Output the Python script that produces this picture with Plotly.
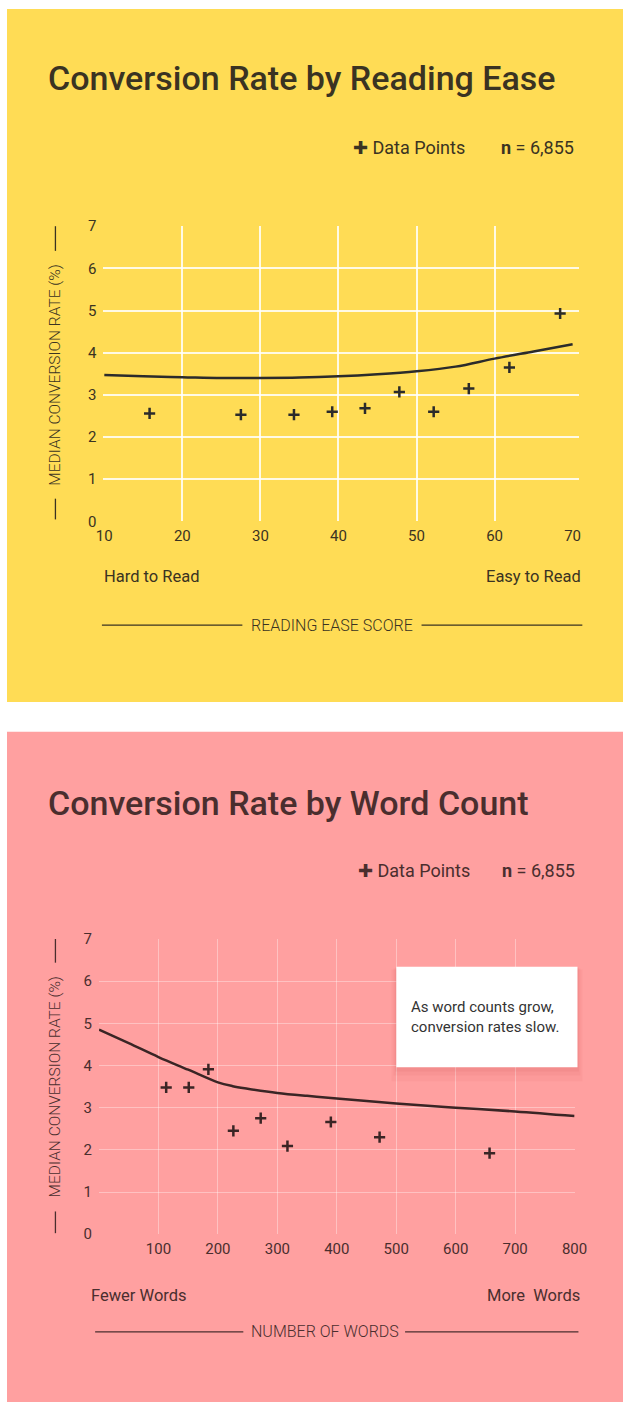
import plotly.graph_objects as go

# reading ease chart
ease_pts_x = [15.8, 27.5, 34.3, 39.2, 43.4, 47.8, 52.2, 56.7, 61.9, 68.4]
ease_pts_y = [2.56, 2.53, 2.53, 2.60, 2.68, 3.07, 2.60, 3.15, 3.65, 4.93]
ease_fit_x = [10, 15, 20, 25, 30, 35, 40, 45, 50, 55, 60, 65, 70]
ease_fit_y = [3.47, 3.44, 3.42, 3.40, 3.40, 3.41, 3.44, 3.49, 3.56, 3.67, 3.86, 4.03, 4.20]

# word count chart
words_pts_x = [113, 151, 184, 226, 272, 317, 390, 472, 657]
words_pts_y = [3.48, 3.48, 3.91, 2.45, 2.75, 2.09, 2.66, 2.30, 1.92]
words_fit_x = [0, 50, 100, 150, 200, 225, 250, 300, 350, 400, 500, 600, 700, 800]
words_fit_y = [4.85, 4.53, 4.20, 3.90, 3.60, 3.51, 3.45, 3.35, 3.28, 3.22, 3.10, 3.00, 2.91, 2.80]

ease_ticks = [10, 20, 30, 40, 50, 60, 70]
words_ticks = [100, 200, 300, 400, 500, 600, 700, 800]
rate_ticks = [0, 1, 2, 3, 4, 5, 6, 7]

YELLOW = "#FFDC55"
PINK = "#FFA0A0"
INK_Y = "#3a3322"
INK_P = "#4a2e2e"
FONT = "Roboto"

H = 1411
W = 636


def py(px):
    return 1 - px / H


def pxx(px):
    return px / W


fig = go.Figure()

fig.add_trace(go.Scatter(x=ease_fit_x, y=ease_fit_y, mode="lines",
                         line=dict(color="#2b2b2b", width=2.5, shape="spline", smoothing=1),
                         xaxis="x", yaxis="y", hoverinfo="skip"))
fig.add_trace(go.Scatter(x=ease_pts_x, y=ease_pts_y, mode="markers",
                         marker=dict(symbol="cross-thin", size=8, line=dict(width=2.5, color="#2b2b2b")),
                         xaxis="x", yaxis="y"))
fig.add_trace(go.Scatter(x=words_fit_x, y=words_fit_y, mode="lines",
                         line=dict(color="#3a2525", width=2.5, shape="spline", smoothing=1),
                         xaxis="x2", yaxis="y2", hoverinfo="skip"))
fig.add_trace(go.Scatter(x=words_pts_x, y=words_pts_y, mode="markers",
                         marker=dict(symbol="cross-thin", size=8, line=dict(width=2.5, color="#3a2525")),
                         xaxis="x2", yaxis="y2"))

axis_common = dict(showline=False, zeroline=False, ticks="", showgrid=False)

fig.update_layout(
    width=W, height=H,
    margin=dict(l=0, r=0, t=0, b=0),
    paper_bgcolor="white",
    plot_bgcolor="rgba(0,0,0,0)",
    showlegend=False,
    font=dict(family=FONT, color=INK_Y),
    xaxis=dict(domain=[pxx(99.5), pxx(591)], range=[9.88, 70.87], anchor="y",
               tickvals=ease_ticks, tickfont=dict(size=15, color=INK_Y), ticklabelstandoff=4,
               minor=dict(tickvals=ease_ticks[1:-1], showgrid=True, gridcolor="rgba(255,255,255,0.85)",
                          gridwidth=1.5, ticks=""),
               **axis_common),
    yaxis=dict(domain=[py(519), py(220)], range=[0, 7], anchor="x",
               tickvals=rate_ticks, tickfont=dict(size=15, color=INK_Y), ticklabelstandoff=6,
               minor=dict(tickvals=rate_ticks[:-1], showgrid=True, gridcolor="rgba(255,255,255,0.85)",
                          gridwidth=1.5, ticks=""),
               **axis_common),
    xaxis2=dict(domain=[pxx(95), pxx(586)], range=[0, 800], anchor="y2",
                tickvals=words_ticks, tickfont=dict(size=15, color=INK_P), ticklabelstandoff=4,
                minor=dict(tickvals=words_ticks[:-1], showgrid=True, gridcolor="rgba(255,255,255,0.35)",
                           gridwidth=1, ticks=""),
                **axis_common),
    yaxis2=dict(domain=[py(1241), py(942)], range=[0, 7], anchor="x2",
                tickvals=rate_ticks, tickfont=dict(size=15, color=INK_P), ticklabelstandoff=6,
                minor=dict(tickvals=rate_ticks[:-1], showgrid=True, gridcolor="rgba(255,255,255,0.35)",
                           gridwidth=1, ticks=""),
                **axis_common),
)

shapes = [
    dict(type="rect", xref="paper", yref="paper", x0=0, x1=1, y0=py(702), y1=1,
         fillcolor=YELLOW, line=dict(width=0), layer="below"),
    dict(type="rect", xref="paper", yref="paper", x0=0, x1=1, y0=0, y1=py(732),
         fillcolor=PINK, line=dict(width=0), layer="below"),
    # axis title rules
    dict(type="line", xref="paper", yref="paper", x0=pxx(98), x1=pxx(243), y0=py(624), y1=py(624),
         line=dict(color=INK_Y, width=1.3)),
    dict(type="line", xref="paper", yref="paper", x0=pxx(428), x1=pxx(594), y0=py(624), y1=py(624),
         line=dict(color=INK_Y, width=1.3)),
    dict(type="line", xref="paper", yref="paper", x0=pxx(91), x1=pxx(244), y0=py(1340), y1=py(1340),
         line=dict(color=INK_P, width=1.3)),
    dict(type="line", xref="paper", yref="paper", x0=pxx(411), x1=pxx(590), y0=py(1340), y1=py(1340),
         line=dict(color=INK_P, width=1.3)),
    # rules on the rotated y titles
    dict(type="line", xref="paper", yref="paper", x0=pxx(50), x1=pxx(50), y0=py(245), y1=py(220),
         line=dict(color=INK_Y, width=1.3)),
    dict(type="line", xref="paper", yref="paper", x0=pxx(50), x1=pxx(50), y0=py(517), y1=py(496),
         line=dict(color=INK_Y, width=1.3)),
    dict(type="line", xref="paper", yref="paper", x0=pxx(50), x1=pxx(50), y0=py(966), y1=py(942),
         line=dict(color=INK_P, width=1.3)),
    dict(type="line", xref="paper", yref="paper", x0=pxx(50), x1=pxx(50), y0=py(1240), y1=py(1218),
         line=dict(color=INK_P, width=1.3)),
]
# soft shadow under the note box, then the box itself
for grow, alpha in [(10, 0.05), (6, 0.06), (3, 0.07)]:
    shapes.append(dict(type="rect", xref="paper", yref="paper",
                       x0=pxx(402 - grow * 0.5), x1=pxx(589 + grow * 0.5),
                       y0=py(1072 + grow * 1.4), y1=py(970 + grow * 0.3),
                       fillcolor=f"rgba(190,60,60,{alpha})", line=dict(width=0)))
shapes.append(dict(type="rect", xref="paper", yref="paper", x0=pxx(402), x1=pxx(589),
                   y0=py(1072), y1=py(970), fillcolor="white", line=dict(width=0)))
fig.update_layout(shapes=shapes)


def note(text, x, y, size, color, xanchor="left", angle=0, weight="normal"):
    fig.add_annotation(text=text, x=pxx(x), y=py(y), xref="paper", yref="paper",
                       xanchor=xanchor, yanchor="middle", showarrow=False, textangle=angle,
                       align="left", font=dict(family=FONT, size=size, color=color, weight=weight))


# top panel
note("Conversion Rate by Reading Ease", 40, 70, 34, INK_Y, weight=500)
note("✚ Data Points", 355, 140, 18, INK_Y)
note("<b>n</b> = 6,855", 587, 140, 18, INK_Y, xanchor="right")
note("MEDIAN CONVERSION RATE (%)", 50, 371, 15.5, INK_Y, xanchor="center", angle=-90, weight=300)
note("Hard to Read", 98, 575, 16.5, INK_Y)
note("Easy to Read", 595, 575, 16.5, INK_Y, xanchor="right")
note("READING EASE SCORE", 336, 624, 16, INK_Y, xanchor="center", weight=300)

# bottom panel
note("Conversion Rate by Word Count", 40, 804, 34, INK_P, weight=500)
note("✚ Data Points", 360, 873, 18, INK_P)
note("<b>n</b> = 6,855", 588, 873, 18, INK_P, xanchor="right")
note("MEDIAN CONVERSION RATE (%)", 50, 1092, 15.5, INK_P, xanchor="center", angle=-90, weight=300)
note("As word counts grow,<br>conversion rates slow.", 415, 1021, 15, "#333333")
note("Fewer Words", 85, 1303, 16.5, INK_P)
note("More  Words", 594, 1303, 16.5, INK_P, xanchor="right")
note("NUMBER OF WORDS", 328, 1340, 16, INK_P, xanchor="center", weight=300)

# drop the page margin so the figure sits flush in the window
fig.write_html(
    "out.html",
    config={"displayModeBar": False},
    post_script="document.body.style.margin='0';document.body.style.overflow='hidden';",
)
